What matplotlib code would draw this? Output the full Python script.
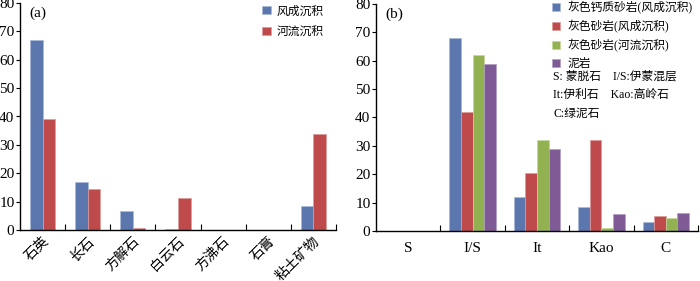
import matplotlib
matplotlib.use("Agg")
import matplotlib.pyplot as plt
import numpy as np
from matplotlib.ticker import FixedLocator, NullFormatter

plt.rcParams['font.family'] = ['Liberation Serif', 'Noto Sans CJK SC']

# Panel (a) data
cats_a = ['石英', '长石', '方解石', '白云石', '方沸石', '石膏', '粘土矿物']
aeolian_a = [67.0, 17.0, 6.8, 0.3, 0.0, 0.0, 8.3]
fluvial_a = [39.2, 14.6, 0.7, 11.3, 0.0, 0.0, 33.7]
labels_a = ['风成沉积', '河流沉积']

# Panel (b) data
cats_b = ['S', 'I/S', 'It', 'Kao', 'C']
s1_b = [0.0, 68.0, 12.0, 8.6, 3.3]
s2_b = [0.0, 41.8, 20.3, 32.0, 5.4]
s3_b = [0.0, 62.0, 32.0, 1.0, 4.6]
s4_b = [0.0, 58.7, 29.0, 5.9, 6.2]
labels_b = ['灰色钙质砂岩(风成沉积)', '灰色砂岩(风成沉积)', '灰色砂岩(河流沉积)', '泥岩']
notes_b = ['S: 蒙脱石    I/S:伊蒙混层', 'It:伊利石    Kao:高岭石', 'C:绿泥石']

yticks = [0, 10, 20, 30, 40, 50, 60, 70, 80]

blue = '#5b77ae'
red = '#be4a4b'
green = '#92b150'
purple = '#7e5b94'

fig = plt.figure(figsize=(7.0, 2.81), dpi=100)

def style_axes(ax, n):
    ax.set_xlim(-0.5, n - 0.5)
    ax.set_ylim(0, 80)
    ax.set_yticks(yticks)
    ax.spines['top'].set_visible(False)
    ax.spines['right'].set_visible(False)
    ax.spines['left'].set_linewidth(1.0)
    ax.spines['bottom'].set_linewidth(1.0)
    ax.tick_params(axis='y', direction='out', length=3, width=0.8, labelsize=11, pad=1)
    ax.tick_params(axis='x', which='major', length=0, labelsize=10)
    ax.xaxis.set_minor_locator(FixedLocator(np.arange(0.5, n, 1.0)))
    ax.xaxis.set_minor_formatter(NullFormatter())
    ax.tick_params(axis='x', which='minor', direction='in', length=4, width=0.8)

# ---- Panel (a)
ax1 = fig.add_axes([20/700, 51/281, 316/700, 227/281])
x = np.arange(len(cats_a))
w = 0.28
ax1.bar(x - w/2, aeolian_a, w, color=blue, edgecolor='#a9b9d6', linewidth=0.5, label=labels_a[0])
ax1.bar(x + w/2, fluvial_a, w, color=red, edgecolor='#dd9a9a', linewidth=0.5, label=labels_a[1])
style_axes(ax1, len(cats_a))
ax1.set_xticks(x)
ax1.set_xticklabels(cats_a, rotation=45, ha='right', rotation_mode='anchor', fontsize=10)
ax1.tick_params(axis='x', which='major', pad=3.5)
ax1.text(0.03, 0.985, '(a)', transform=ax1.transAxes, fontsize=11, va='top', ha='left')
ax1.legend(loc='upper left', bbox_to_anchor=(0.765, 0.99), frameon=False, fontsize=8.5,
           handlelength=0.75, handleheight=0.75, handletextpad=0.5, labelspacing=0.75,
           borderaxespad=0.0, borderpad=0.0)

# ---- Panel (b)
ax2 = fig.add_axes([376/700, 50/281, 322/700, 227/281])
xb = np.arange(len(cats_b))
wb = 0.18
series = [s1_b, s2_b, s3_b, s4_b]
colors = [blue, red, green, purple]
edges = ['#a9b9d6', '#dd9a9a', '#c4d79c', '#b3a0c3']
for i, (vals, c, ec, lab) in enumerate(zip(series, colors, edges, labels_b)):
    ax2.bar(xb + (i - 1.5) * wb, vals, wb, color=c, edgecolor=ec, linewidth=0.5, label=lab)
style_axes(ax2, len(cats_b))
ax2.set_xticks(xb)
ax2.set_xticklabels(cats_b, fontsize=11)
ax2.tick_params(axis='x', which='major', pad=8)
ax2.text(0.03, 0.985, '(b)', transform=ax2.transAxes, fontsize=11, va='top', ha='left')
leg = ax2.legend(loc='upper left', bbox_to_anchor=(0.548, 1.012), frameon=False, fontsize=8.5,
                 handlelength=0.6, handleheight=0.6, handletextpad=0.7, labelspacing=0.5,
                 borderaxespad=0.0, borderpad=0.0)
for i, t in enumerate(notes_b):
    ax2.text(0.55, 0.680 - i * 0.081, t, transform=ax2.transAxes, fontsize=8.5,
             va='center', ha='left')

fig.savefig('out.png', dpi=100)
